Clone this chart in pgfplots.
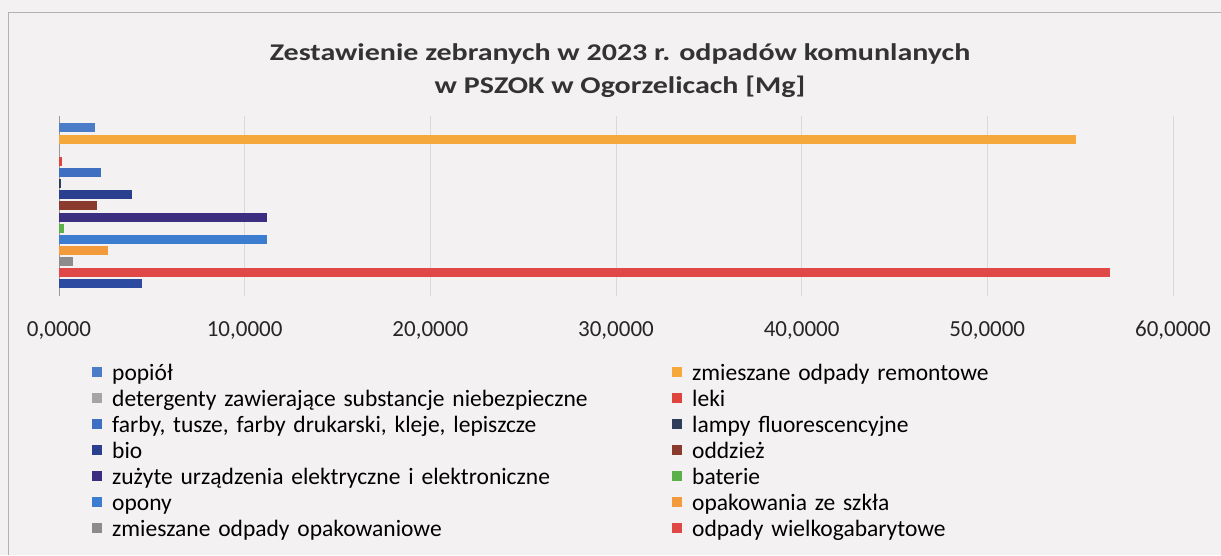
\documentclass[border=0pt]{standalone}
\usepackage{fontspec}
\setmainfont{Carlito}
\newfontfamily\titlefont{Carlito}[FakeStretch=1.25]
\usepackage{pgfplots}
\pgfplotsset{compat=1.18}

\definecolor{bgpaper}{RGB}{244,241,243}
\definecolor{cPopiol}{RGB}{74,124,200}
\definecolor{cRemont}{RGB}{245,168,60}
\definecolor{cDeterg}{RGB}{165,165,165}
\definecolor{cLeki}{RGB}{222,68,60}
\definecolor{cFarby}{RGB}{62,111,192}
\definecolor{cLampy}{RGB}{46,61,90}
\definecolor{cBio}{RGB}{43,63,143}
\definecolor{cOdziez}{RGB}{139,58,46}
\definecolor{cZuzyte}{RGB}{59,46,128}
\definecolor{cBaterie}{RGB}{91,176,74}
\definecolor{cOpony}{RGB}{61,125,208}
\definecolor{cSzklo}{RGB}{243,154,58}
\definecolor{cOpak}{RGB}{140,140,140}
\definecolor{cWielko}{RGB}{224,72,72}
\definecolor{cExtra}{RGB}{44,74,160}

\begin{document}
\begin{tikzpicture}
  \useasboundingbox (0,0) rectangle (1221pt,-555pt);
  \fill[bgpaper] (0,0) rectangle (1221pt,-555pt);
  \draw[gray!60, line width=1pt] (8pt,-555pt) -- (8pt,-12pt) -- (1221pt,-12pt);

  \node[font=\titlefont\fontsize{24}{33}\selectfont\bfseries, align=center, text=black!80]
    at (620pt,-71pt) {Zestawienie zebranych w 2023 r. odpadów komunlanych\\w PSZOK w Ogorzelicach [Mg]};

  \begin{axis}[
    at={(59pt,-296pt)}, anchor=south west,
    scale only axis,
    width=1114pt, height=180pt,
    xmin=0, xmax=60,
    ymin=-90, ymax=90,
    xbar, bar shift=0pt, bar width=9pt,
    axis lines*=left,
    x axis line style={draw=none},
    y axis line style={draw=gray!80, line width=0.8pt},
    ytick=\empty,
    xtick={0,10,20,30,40,50,60},
    xticklabels={{0,0000},{10,0000},{20,0000},{30,0000},{40,0000},{50,0000},{60,0000}},
    xticklabel style={font=\fontsize{23}{26}\selectfont, text=black!85, inner sep=0pt, anchor=center, yshift=-34pt},
    major tick length=0pt,
    xmajorgrids,
    grid style={draw=gray!30, line width=0.8pt},
    legend columns=2,
    legend cell align=left,
    legend style={
      at={(0.0296,-0.389)}, anchor=north west,
      draw=none, fill=none, inner sep=0pt,
      font=\fontsize{23.5}{26}\selectfont,
      nodes={inner sep=0pt, text width=550pt, text height=14pt, text depth=5pt},
      /tikz/column sep=10pt, row sep=7pt,
    },
    legend image code/.code={\fill[#1] (0pt,-1pt) rectangle (10pt,9pt);},
  ]
    \addplot[fill=cPopiol, draw=none] coordinates {(1.94,78)};
    \addlegendentry{popiół}
    \addplot[fill=cRemont, draw=none] coordinates {(54.8,66.86)};
    \addlegendentry{zmieszane odpady remontowe}
    \addplot[fill=cDeterg, draw=none] coordinates {(0,55.72)};
    \addlegendentry{detergenty zawierające substancje niebezpieczne}
    \addplot[fill=cLeki, draw=none] coordinates {(0.15,44.58)};
    \addlegendentry{leki}
    \addplot[fill=cFarby, draw=none] coordinates {(2.26,33.44)};
    \addlegendentry{farby, tusze, farby drukarski, kleje, lepiszcze}
    \addplot[fill=cLampy, draw=none] coordinates {(0.09,22.3)};
    \addlegendentry{lampy fluorescencyjne}
    \addplot[fill=cBio, draw=none] coordinates {(3.95,11.16)};
    \addlegendentry{bio}
    \addplot[fill=cOdziez, draw=none] coordinates {(2.03,0.02)};
    \addlegendentry{oddzież}
    \addplot[fill=cZuzyte, draw=none] coordinates {(11.18,-11.12)};
    \addlegendentry{zużyte urządzenia elektryczne i elektroniczne}
    \addplot[fill=cBaterie, draw=none] coordinates {(0.29,-22.26)};
    \addlegendentry{baterie}
    \addplot[fill=cOpony, draw=none] coordinates {(11.2,-33.4)};
    \addlegendentry{opony}
    \addplot[fill=cSzklo, draw=none] coordinates {(2.66,-44.54)};
    \addlegendentry{opakowania ze szkła}
    \addplot[fill=cOpak, draw=none] coordinates {(0.77,-55.68)};
    \addlegendentry{zmieszane odpady opakowaniowe}
    \addplot[fill=cWielko, draw=none] coordinates {(56.6,-66.82)};
    \addlegendentry{odpady wielkogabarytowe}
    \addplot[fill=cExtra, draw=none, forget plot] coordinates {(4.45,-77.96)};
  \end{axis}
\end{tikzpicture}
\end{document}
